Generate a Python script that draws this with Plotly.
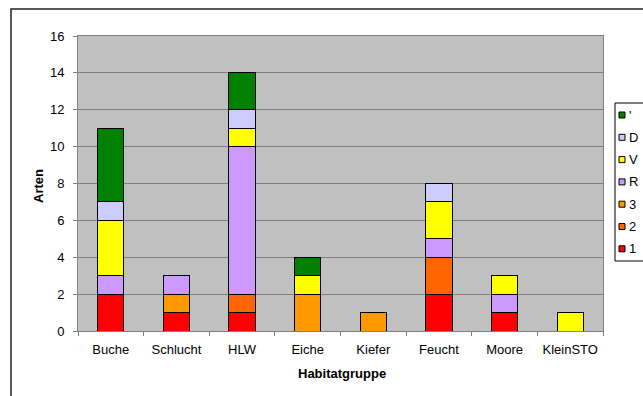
import plotly.graph_objects as go

# Habitat groups and species counts per Red-List category
categories = ["Buche", "Schlucht", "HLW", "Eiche", "Kiefer", "Feucht", "Moore", "KleinSTO"]
series_names = ["1", "2", "3", "R", "V", "D", "'"]
series_colors = ["#FF0000", "#FF6600", "#FF9900", "#CC99FF", "#FFFF00", "#CCCCFF", "#008000"]
values_1 = [2, 1, 1, 0, 0, 2, 1, 0]
values_2 = [0, 0, 1, 0, 0, 2, 0, 0]
values_3 = [0, 1, 0, 2, 1, 0, 0, 0]
values_R = [1, 1, 8, 0, 0, 1, 1, 0]
values_V = [3, 0, 1, 1, 0, 2, 1, 1]
values_D = [1, 0, 1, 0, 0, 1, 0, 0]
values_apos = [4, 0, 2, 1, 0, 0, 0, 0]
series_values = [values_1, values_2, values_3, values_R, values_V, values_D, values_apos]
y_ticks = [0, 2, 4, 6, 8, 10, 12, 14, 16]

FONT = "Liberation Sans, Arial, sans-serif"
W, H = 643, 396
L, R, T, B = 78, 40, 36, 65
PW, PH = W - L - R, H - T - B


def px_x(p):
    return (p - L) / PW


def px_y(p):
    return (H - B - p) / PH


fig = go.Figure()
for name, color, vals in zip(series_names, series_colors, series_values):
    fig.add_trace(go.Bar(
        x=categories, y=vals, name=name,
        marker=dict(color=color, line=dict(color="#000000", width=1)),
        showlegend=False,
    ))

shapes = [
    # outer chart frame
    dict(type="rect", xref="paper", yref="paper",
         x0=px_x(11), x1=px_x(660), y0=px_y(9), y1=px_y(410),
         line=dict(color="#222222", width=1.5), fillcolor="rgba(0,0,0,0)", layer="below"),
    # legend box
    dict(type="rect", xref="paper", yref="paper",
         x0=px_x(615), x1=px_x(660), y0=px_y(103), y1=px_y(261),
         line=dict(color="#000000", width=1), fillcolor="#FFFFFF"),
]
annotations = []

# legend entries, top to bottom in reverse stacking order
for i, (name, color) in enumerate(zip(series_names[::-1], series_colors[::-1])):
    cy = 115 + 22.3 * i
    shapes.append(dict(type="rect", xref="paper", yref="paper",
                       x0=px_x(619), x1=px_x(625), y0=px_y(cy + 3), y1=px_y(cy - 3),
                       line=dict(color="#000000", width=1), fillcolor=color))
    annotations.append(dict(text=name, xref="paper", yref="paper",
                            x=px_x(627), y=px_y(cy), xanchor="left", yanchor="middle",
                            showarrow=False, font=dict(family=FONT, size=13, color="#000000")))

annotations.append(dict(text="<b>Habitatgruppe</b>", xref="paper", yref="paper",
                        x=px_x(342), y=px_y(373), xanchor="center", yanchor="middle",
                        showarrow=False, font=dict(family=FONT, size=13, color="#000000")))
annotations.append(dict(text="<b>Arten</b>", xref="paper", yref="paper",
                        x=px_x(38), y=px_y(186), xanchor="center", yanchor="middle",
                        textangle=-90, showarrow=False,
                        font=dict(family=FONT, size=13, color="#000000")))

fig.update_layout(
    width=W, height=H,
    margin=dict(l=L, r=R, t=T, b=B, pad=0),
    barmode="stack", bargap=0.6,
    plot_bgcolor="#C0C0C0", paper_bgcolor="#FFFFFF",
    font=dict(family=FONT, size=13, color="#000000"),
    shapes=shapes, annotations=annotations,
    xaxis=dict(
        type="category", showgrid=False, ticks="outside", tickson="boundaries",
        ticklen=4, tickcolor="#808080", showline=True, linecolor="#808080",
        linewidth=1, mirror=True, tickfont=dict(family=FONT, size=13),
        ticklabelstandoff=6,
    ),
    yaxis=dict(
        range=[0, 16], tickvals=y_ticks, showgrid=True, gridcolor="#808080",
        gridwidth=1, ticks="outside", ticklen=4, tickcolor="#808080",
        showline=True, linecolor="#808080", linewidth=1, mirror=True,
        zeroline=False, tickfont=dict(family=FONT, size=13),
        ticklabelstandoff=6,
    ),
)

fig.write_html("out.html")
